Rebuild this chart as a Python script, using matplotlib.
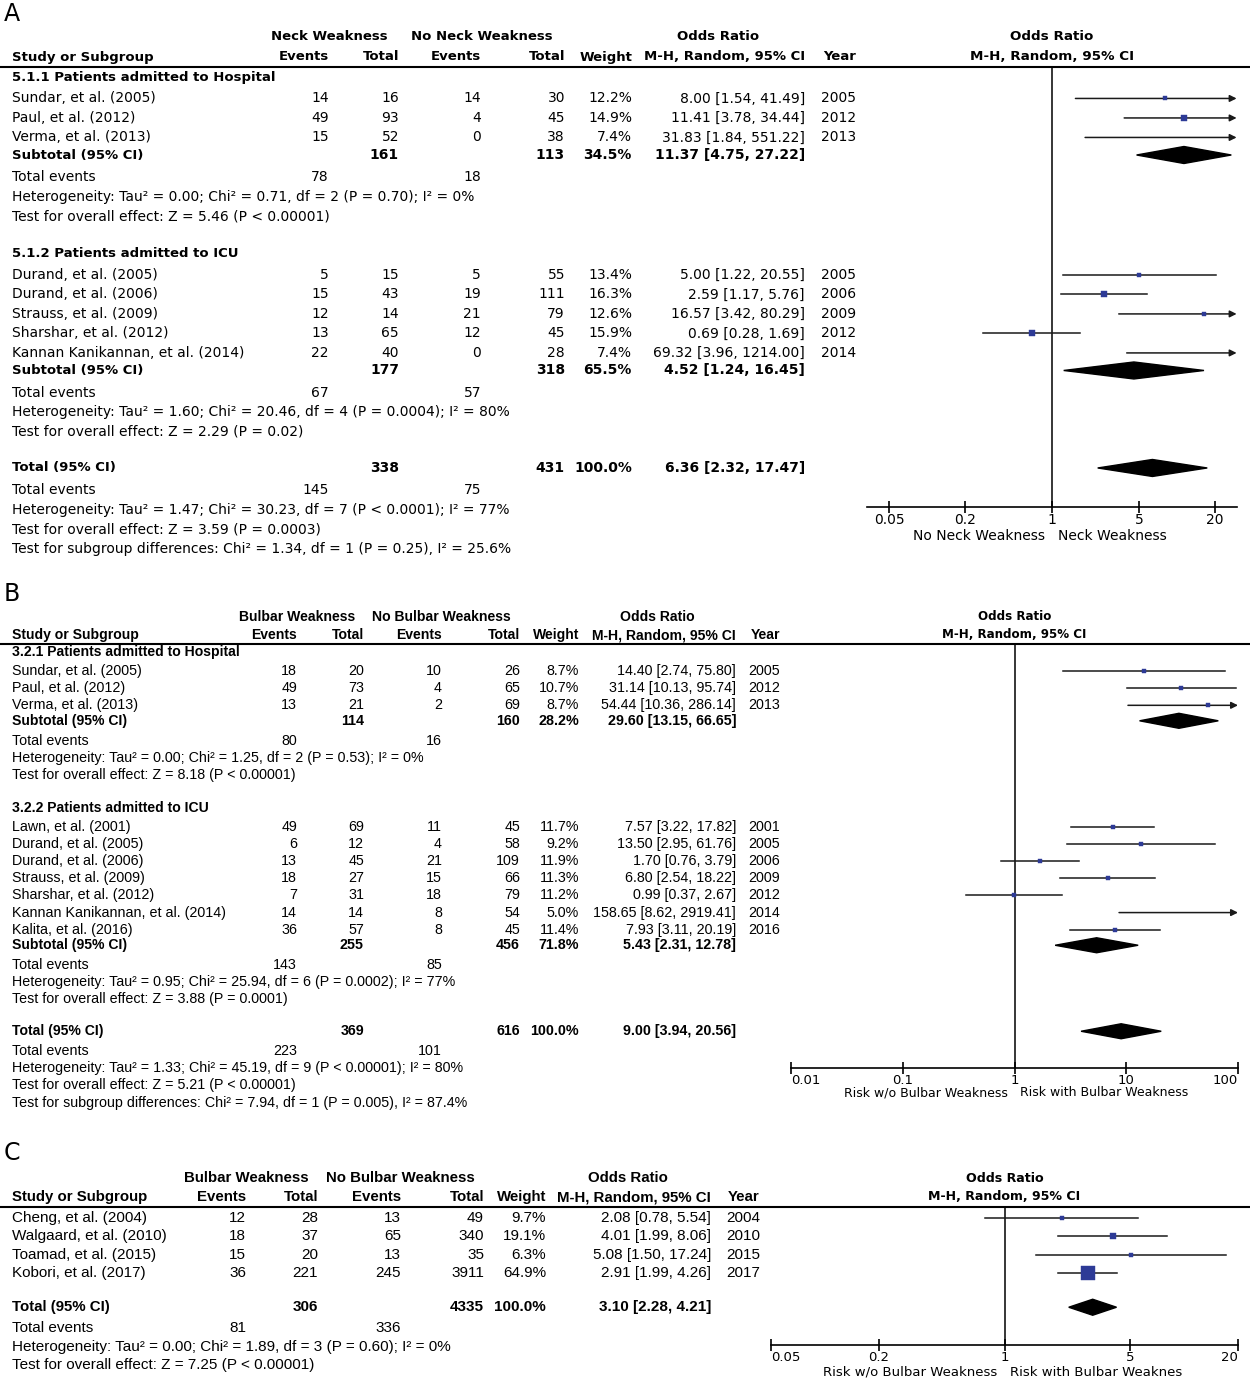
import numpy as np
import matplotlib.pyplot as plt
from matplotlib.patches import Polygon
from matplotlib.ticker import NullLocator

plt.rcParams['font.family'] = ['DejaVu Sans']

W, H = 1250, 1392

# ==========================================
# A. neck weakness
# ==========================================
a_study = ['Sundar, et al. (2005)', 'Paul, et al. (2012)', 'Verma, et al. (2013)',
           'Durand, et al. (2005)', 'Durand, et al. (2006)', 'Strauss, et al. (2009)',
           'Sharshar, et al. (2012)', 'Kannan Kanikannan, et al. (2014)']
a_grp = [0, 0, 0, 1, 1, 1, 1, 1]
a_ev1 = [14, 49, 15, 5, 15, 12, 13, 22]
a_tot1 = [16, 93, 52, 15, 43, 14, 65, 40]
a_ev2 = [14, 4, 0, 5, 19, 21, 12, 0]
a_tot2 = [30, 45, 38, 55, 111, 79, 45, 28]
a_wt = [12.2, 14.9, 7.4, 13.4, 16.3, 12.6, 15.9, 7.4]
a_or = [8.00, 11.41, 31.83, 5.00, 2.59, 16.57, 0.69, 69.32]
a_lo = [1.54, 3.78, 1.84, 1.22, 1.17, 3.42, 0.28, 3.96]
a_hi = [41.49, 34.44, 551.22, 20.55, 5.76, 80.29, 1.69, 1214.00]
a_year = [2005, 2012, 2013, 2005, 2006, 2009, 2012, 2014]

a_sub_name = ['5.1.1 Patients admitted to Hospital', '5.1.2 Patients admitted to ICU']
a_sub_ev1 = [78, 67]
a_sub_ev2 = [18, 57]
a_sub_tot1 = [161, 177]
a_sub_tot2 = [113, 318]
a_sub_wt = [34.5, 65.5]
a_sub_or = [11.37, 4.52]
a_sub_lo = [4.75, 1.24]
a_sub_hi = [27.22, 16.45]
a_sub_het = ['Tau² = 0.00; Chi² = 0.71, df = 2 (P = 0.70); I² = 0%',
             'Tau² = 1.60; Chi² = 20.46, df = 4 (P = 0.0004); I² = 80%']
a_sub_z = ['Z = 5.46 (P < 0.00001)', 'Z = 2.29 (P = 0.02)']

a_all_tot = [338, 431]
a_all_ev = [145, 75]
a_all_or = [6.36, 2.32, 17.47]
a_all_het = 'Tau² = 1.47; Chi² = 30.23, df = 7 (P < 0.0001); I² = 77%'
a_all_z = 'Z = 3.59 (P = 0.0003)'
a_diff = 'Chi² = 1.34, df = 1 (P = 0.25), I² = 25.6%'

# ==========================================
# B. bulbar weakness, hospital / ICU
# ==========================================
b_study = ['Sundar, et al. (2005)', 'Paul, et al. (2012)', 'Verma, et al. (2013)',
           'Lawn, et al. (2001)', 'Durand, et al. (2005)', 'Durand, et al. (2006)',
           'Strauss, et al. (2009)', 'Sharshar, et al. (2012)',
           'Kannan Kanikannan, et al. (2014)', 'Kalita, et al. (2016)']
b_grp = [0, 0, 0, 1, 1, 1, 1, 1, 1, 1]
b_ev1 = [18, 49, 13, 49, 6, 13, 18, 7, 14, 36]
b_tot1 = [20, 73, 21, 69, 12, 45, 27, 31, 14, 57]
b_ev2 = [10, 4, 2, 11, 4, 21, 15, 18, 8, 8]
b_tot2 = [26, 65, 69, 45, 58, 109, 66, 79, 54, 45]
b_wt = [8.7, 10.7, 8.7, 11.7, 9.2, 11.9, 11.3, 11.2, 5.0, 11.4]
b_or = [14.40, 31.14, 54.44, 7.57, 13.50, 1.70, 6.80, 0.99, 158.65, 7.93]
b_lo = [2.74, 10.13, 10.36, 3.22, 2.95, 0.76, 2.54, 0.37, 8.62, 3.11]
b_hi = [75.80, 95.74, 286.14, 17.82, 61.76, 3.79, 18.22, 2.67, 2919.41, 20.19]
b_year = [2005, 2012, 2013, 2001, 2005, 2006, 2009, 2012, 2014, 2016]

b_sub_name = ['3.2.1 Patients admitted to Hospital', '3.2.2 Patients admitted to ICU']
b_sub_ev1 = [80, 143]
b_sub_ev2 = [16, 85]
b_sub_tot1 = [114, 255]
b_sub_tot2 = [160, 456]
b_sub_wt = [28.2, 71.8]
b_sub_or = [29.60, 5.43]
b_sub_lo = [13.15, 2.31]
b_sub_hi = [66.65, 12.78]
b_sub_het = ['Tau² = 0.00; Chi² = 1.25, df = 2 (P = 0.53); I² = 0%',
             'Tau² = 0.95; Chi² = 25.94, df = 6 (P = 0.0002); I² = 77%']
b_sub_z = ['Z = 8.18 (P < 0.00001)', 'Z = 3.88 (P = 0.0001)']

b_all_tot = [369, 616]
b_all_ev = [223, 101]
b_all_or = [9.00, 3.94, 20.56]
b_all_het = 'Tau² = 1.33; Chi² = 45.19, df = 9 (P < 0.00001); I² = 80%'
b_all_z = 'Z = 5.21 (P < 0.00001)'
b_diff = 'Chi² = 7.94, df = 1 (P = 0.005), I² = 87.4%'

# ==========================================
# C. bulbar weakness, second outcome
# ==========================================
c_study = ['Cheng, et al. (2004)', 'Walgaard, et al. (2010)', 'Toamad, et al. (2015)',
           'Kobori, et al. (2017)']
c_ev1 = [12, 18, 15, 36]
c_tot1 = [28, 37, 20, 221]
c_ev2 = [13, 65, 13, 245]
c_tot2 = [49, 340, 35, 3911]
c_wt = [9.7, 19.1, 6.3, 64.9]
c_or = [2.08, 4.01, 5.08, 2.91]
c_lo = [0.78, 1.99, 1.50, 1.99]
c_hi = [5.54, 8.06, 17.24, 4.26]
c_year = [2004, 2010, 2015, 2017]

c_all_tot = [306, 4335]
c_all_ev = [81, 336]
c_all_or = [3.10, 2.28, 4.21]
c_all_het = 'Tau² = 0.00; Chi² = 1.89, df = 3 (P = 0.60); I² = 0%'
c_all_z = 'Z = 7.25 (P < 0.00001)'


fig = plt.figure(figsize=(W / 100, H / 100), dpi=100)
tx = fig.add_axes([0, 0, 1, 1])
tx.set_xlim(0, W)
tx.set_ylim(H, 0)
tx.axis('off')

SQ = '#2d3a96'


def fmt_or(o, l, h):
    return f'{o:.2f} [{l:.2f}, {h:.2f}]'


def draw_panel(cfg, d):
    fam, fs, bfs = cfg['family'], cfg['fs'], cfg['bfs']

    def put(x, y, s, ha='left', bold=False, size=None):
        tx.text(x, y, s, ha=ha, va='center', family=fam,
                fontsize=size or (bfs if bold else fs),
                fontweight='bold' if bold else 'normal')

    c = cfg['cols']
    tx.text(4, cfg['label_y'], cfg['label'], fontsize=17, va='center', ha='left')

    # --- table header
    y1, y2 = cfg['head_y']
    put(c['g1'], y1, d['g1'], 'center', True)
    put(c['g2'], y1, d['g2'], 'center', True)
    put(c['orh'], y1, 'Odds Ratio', 'center', True)
    put(12, y2, 'Study or Subgroup', bold=True)
    put(c['ev1'], y2, 'Events', 'right', True)
    put(c['tot1'], y2, 'Total', 'right', True)
    put(c['ev2'], y2, 'Events', 'right', True)
    put(c['tot2'], y2, 'Total', 'right', True)
    put(c['wt'], y2, 'Weight', 'right', True)
    put(c['or'], y2, 'M-H, Random, 95% CI', 'right', True)
    put(c['year'], y2, 'Year', 'right', True)
    tx.axhline(cfg['line_y'], color='black', lw=1.5)

    # --- forest axes, y in figure pixels so rows line up with the table
    x0, x1 = cfg['px']
    ytop, ybot = cfg['line_y'], cfg['axis_y']
    lx0, lx1 = np.log10(cfg['xlim'])
    ax = fig.add_axes([x0 / W, 1 - ybot / H, (x1 - x0) / W, (ybot - ytop) / H])
    ax.set_xscale('log')
    ax.set_xlim(*cfg['xlim'])
    ax.set_ylim(ybot, ytop)
    ax.patch.set_alpha(0)
    for sp in ['left', 'right', 'top']:
        ax.spines[sp].set_visible(False)
    ax.spines['bottom'].set_linewidth(1.2)
    ax.set_yticks([])
    ax.set_xticks(cfg['ticks'])
    ax.set_xticklabels(cfg['ticklabels'])
    ax.xaxis.set_minor_locator(NullLocator())
    ax.tick_params(axis='x', direction='inout', length=9, width=1.2,
                   labelsize=cfg['tfs'], pad=0)
    if cfg['edge_align']:
        tl = ax.get_xticklabels()
        tl[0].set_ha('left')
        tl[-1].set_ha('right')
    ax.axvline(1, color='black', lw=1.1)

    xp1 = x0 + (0 - lx0) / (lx1 - lx0) * (x1 - x0)
    tx.text(xp1, y1, 'Odds Ratio', ha='center', va='center', fontsize=cfg['hfs'],
            fontweight='bold')
    tx.text(xp1, y2, 'M-H, Random, 95% CI', ha='center', va='center',
            fontsize=cfg['hfs'], fontweight='bold')
    tx.text(xp1 - 7, cfg['xlab_y'], d['left_lab'], ha='right', va='center',
            fontsize=cfg['lfs'])
    tx.text(xp1 + 6, cfg['xlab_y'], d['right_lab'], ha='left', va='center',
            fontsize=cfg['lfs'])

    xmin, xmax = cfg['xlim']
    dh = cfg['dh']

    def ci(o, l, h, w, y):
        a, b = max(l, xmin), min(h, xmax)
        if h > xmax:
            ax.annotate('', xy=(xmax, y), xytext=(a, y), annotation_clip=False,
                        arrowprops=dict(arrowstyle='-|>', color='#1a1a1a', lw=1.1,
                                        mutation_scale=10, shrinkA=0, shrinkB=0))
        else:
            ax.plot([a, b], [y, y], color='#1a1a1a', lw=1.1, clip_on=False)
        side = (2.5 + 0.17 * w) * 0.72
        if xmin <= o <= xmax:
            ax.plot(o, y, marker='s', ms=side, color=SQ, mec=SQ, mew=0.3, zorder=5)

    def diamond(o, l, h, y):
        ax.add_patch(Polygon([(l, y), (o, y - dh / 2), (h, y), (o, y + dh / 2)],
                             closed=True, color='black', zorder=4))

    # --- rows
    rows = []
    if d['sub_name']:
        for g in range(len(d['sub_name'])):
            rows.append(('head', g))
            rows += [('study', i) for i, gg in enumerate(d['grp']) if gg == g]
            rows += [('sub', g), ('events', g), ('het', g), ('test', g)]
    else:
        rows += [('study', i) for i in range(len(d['study']))]
    rows += [('total', None), ('tevents', None), ('thet', None), ('ttest', None)]
    if d['diff']:
        rows.append(('diff', None))

    gap = {'sub': 0.9, 'events': 1.15, 'tevents': 1.15, 'het': 1, 'thet': 1,
           'test': 1, 'ttest': 1, 'diff': 1, 'head': 1.9, 'total': 1.85}
    s = cfg['step']
    y = cfg['y0']
    prev = None
    for k, (kind, i) in enumerate(rows):
        if k > 0:
            if kind == 'study':
                y += s * (1.1 if prev == 'head' else 1.0)
            else:
                y += s * gap[kind]
        prev = kind

        if kind == 'head':
            put(12, y, d['sub_name'][i], bold=True)
        elif kind == 'study':
            put(12, y, d['study'][i])
            put(c['ev1'], y, str(d['ev1'][i]), 'right')
            put(c['tot1'], y, str(d['tot1'][i]), 'right')
            put(c['ev2'], y, str(d['ev2'][i]), 'right')
            put(c['tot2'], y, str(d['tot2'][i]), 'right')
            put(c['wt'], y, f"{d['wt'][i]:.1f}%", 'right')
            put(c['or'], y, fmt_or(d['or'][i], d['lo'][i], d['hi'][i]), 'right')
            put(c['year'], y, str(d['year'][i]), 'right')
            ci(d['or'][i], d['lo'][i], d['hi'][i], d['wt'][i], y)
        elif kind == 'sub':
            put(12, y, 'Subtotal (95% CI)', bold=True)
            put(c['tot1'], y, str(d['sub_tot1'][i]), 'right', True, fs)
            put(c['tot2'], y, str(d['sub_tot2'][i]), 'right', True, fs)
            put(c['wt'], y, f"{d['sub_wt'][i]:.1f}%", 'right', True, fs)
            put(c['or'], y, fmt_or(d['sub_or'][i], d['sub_lo'][i], d['sub_hi'][i]),
                'right', True, fs)
            diamond(d['sub_or'][i], d['sub_lo'][i], d['sub_hi'][i], y)
        elif kind == 'events':
            put(12, y, 'Total events')
            put(c['ev1'], y, str(d['sub_ev1'][i]), 'right')
            put(c['ev2'], y, str(d['sub_ev2'][i]), 'right')
        elif kind == 'het':
            put(12, y, 'Heterogeneity: ' + d['sub_het'][i])
        elif kind == 'test':
            put(12, y, 'Test for overall effect: ' + d['sub_z'][i])
        elif kind == 'total':
            o, l, h = d['all_or']
            put(12, y, 'Total (95% CI)', bold=True)
            put(c['tot1'], y, str(d['all_tot'][0]), 'right', True, fs)
            put(c['tot2'], y, str(d['all_tot'][1]), 'right', True, fs)
            put(c['wt'], y, '100.0%', 'right', True, fs)
            put(c['or'], y, fmt_or(o, l, h), 'right', True, fs)
            diamond(o, l, h, y)
        elif kind == 'tevents':
            put(12, y, 'Total events')
            put(c['ev1'], y, str(d['all_ev'][0]), 'right')
            put(c['ev2'], y, str(d['all_ev'][1]), 'right')
        elif kind == 'thet':
            put(12, y, 'Heterogeneity: ' + d['all_het'])
        elif kind == 'ttest':
            put(12, y, 'Test for overall effect: ' + d['all_z'])
        elif kind == 'diff':
            put(12, y, 'Test for subgroup differences: ' + d['diff'])


panel_a = dict(study=a_study, grp=a_grp, ev1=a_ev1, tot1=a_tot1, ev2=a_ev2, tot2=a_tot2,
               wt=a_wt, year=a_year, lo=a_lo, hi=a_hi,
               sub_name=a_sub_name, sub_ev1=a_sub_ev1, sub_ev2=a_sub_ev2,
               sub_tot1=a_sub_tot1, sub_tot2=a_sub_tot2, sub_wt=a_sub_wt,
               sub_or=a_sub_or, sub_lo=a_sub_lo, sub_hi=a_sub_hi,
               sub_het=a_sub_het, sub_z=a_sub_z, all_tot=a_all_tot, all_ev=a_all_ev,
               all_or=a_all_or, all_het=a_all_het, all_z=a_all_z, diff=a_diff,
               g1='Neck Weakness', g2='No Neck Weakness',
               left_lab='No Neck Weakness', right_lab='Neck Weakness')
panel_a['or'] = a_or

panel_b = dict(study=b_study, grp=b_grp, ev1=b_ev1, tot1=b_tot1, ev2=b_ev2, tot2=b_tot2,
               wt=b_wt, year=b_year, lo=b_lo, hi=b_hi,
               sub_name=b_sub_name, sub_ev1=b_sub_ev1, sub_ev2=b_sub_ev2,
               sub_tot1=b_sub_tot1, sub_tot2=b_sub_tot2, sub_wt=b_sub_wt,
               sub_or=b_sub_or, sub_lo=b_sub_lo, sub_hi=b_sub_hi,
               sub_het=b_sub_het, sub_z=b_sub_z, all_tot=b_all_tot, all_ev=b_all_ev,
               all_or=b_all_or, all_het=b_all_het, all_z=b_all_z, diff=b_diff,
               g1='Bulbar Weakness', g2='No Bulbar Weakness',
               left_lab='Risk w/o Bulbar Weakness', right_lab='Risk with Bulbar Weakness')
panel_b['or'] = b_or

panel_c = dict(study=c_study, grp=None, ev1=c_ev1, tot1=c_tot1, ev2=c_ev2, tot2=c_tot2,
               wt=c_wt, year=c_year, lo=c_lo, hi=c_hi, sub_name=None,
               all_tot=c_all_tot, all_ev=c_all_ev, all_or=c_all_or,
               all_het=c_all_het, all_z=c_all_z, diff=None,
               g1='Bulbar Weakness', g2='No Bulbar Weakness',
               left_lab='Risk w/o Bulbar Weakness', right_lab='Risk with Bulbar Weaknes')
panel_c['or'] = c_or

cfg_a = dict(label='A', label_y=14, family=['DejaVu Sans'], fs=10, bfs=9.5,
             tfs=10, hfs=9.7, lfs=10,
             head_y=(37, 57), line_y=67, y0=77, step=19.5,
             cols=dict(ev1=329, tot1=399, ev2=481, tot2=565, wt=632, **{'or': 805},
                       year=856, g1=329, g2=482, orh=718),
             px=(867.4, 1236.6), axis_y=507, xlab_y=536, xlim=(1 / 30, 30),
             ticks=[0.05, 0.2, 1, 5, 20], ticklabels=['0.05', '0.2', '1', '5', '20'],
             edge_align=False, dh=17)

cfg_b = dict(label='B', label_y=594, family=['Liberation Sans'], fs=10.3, bfs=10.1,
             tfs=9.5, hfs=8.6, lfs=9,
             head_y=(617, 635), line_y=644, y0=652, step=17.2,
             cols=dict(ev1=297, tot1=364, ev2=442, tot2=520, wt=579, **{'or': 736},
                       year=780, g1=297, g2=441, orh=657),
             px=(791, 1238), axis_y=1068, xlab_y=1093, xlim=(0.01, 100),
             ticks=[0.01, 0.1, 1, 10, 100], ticklabels=['0.01', '0.1', '1', '10', '100'],
             edge_align=True, dh=15)

cfg_c = dict(label='C', label_y=1153, family=['Liberation Sans'], fs=11, bfs=10.8,
             tfs=9.5, hfs=9.1, lfs=9.5,
             head_y=(1178, 1197), line_y=1207, y0=1218, step=18.4,
             cols=dict(ev1=246, tot1=318, ev2=401, tot2=484, wt=546, **{'or': 711},
                       year=760, g1=246, g2=400, orh=628),
             px=(771, 1238), axis_y=1345, xlab_y=1372, xlim=(0.05, 20),
             ticks=[0.05, 0.2, 1, 5, 20], ticklabels=['0.05', '0.2', '1', '5', '20'],
             edge_align=True, dh=16)

draw_panel(cfg_a, panel_a)
draw_panel(cfg_b, panel_b)
draw_panel(cfg_c, panel_c)

fig.savefig('out.png', dpi=100, facecolor='white')
